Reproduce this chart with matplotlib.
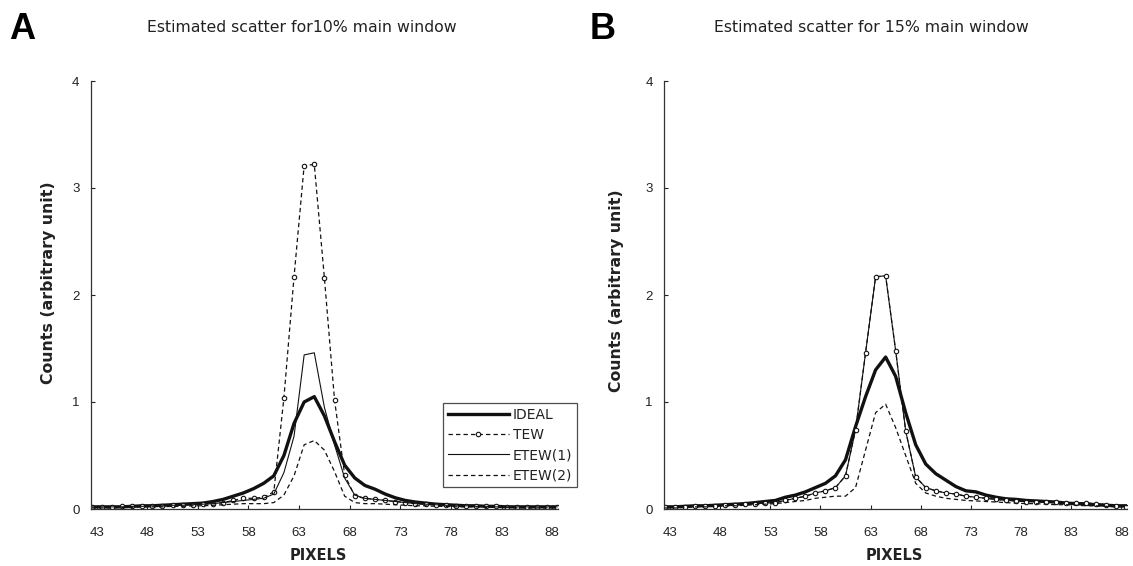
import numpy as np
import matplotlib
matplotlib.use("Agg")
import matplotlib.pyplot as plt

plt.rcParams['font.family'] = ['Liberation Sans', 'DejaVu Sans']

# pixel positions (category centres)
X = np.arange(42.5, 89.0, 1.0)
XTICKS = [43, 48, 53, 58, 63, 68, 73, 78, 83, 88]
YTICKS = [0, 1, 2, 3, 4]

# Panel A: 10% main window
IDEAL_A = [0.02, 0.02, 0.02, 0.02, 0.025, 0.03, 0.03, 0.035, 0.04, 0.045, 0.05, 0.055,
           0.07, 0.09, 0.12, 0.15, 0.19, 0.24, 0.31, 0.50, 0.80, 1.00, 1.05, 0.87, 0.63,
           0.41, 0.29, 0.22, 0.185, 0.14, 0.105, 0.08, 0.065, 0.055, 0.045, 0.04, 0.035,
           0.03, 0.03, 0.025, 0.025, 0.02, 0.02, 0.02, 0.02, 0.02, 0.02]
TEW_A = [0.02, 0.02, 0.02, 0.025, 0.025, 0.03, 0.03, 0.03, 0.035, 0.04, 0.04, 0.045,
         0.05, 0.06, 0.08, 0.10, 0.10, 0.11, 0.16, 1.04, 2.17, 3.21, 3.22, 2.16, 1.02,
         0.32, 0.12, 0.10, 0.09, 0.08, 0.07, 0.06, 0.05, 0.045, 0.04, 0.035, 0.03,
         0.03, 0.03, 0.025, 0.025, 0.02, 0.02, 0.02, 0.02, 0.02, 0.02]
ETEW1_A = [0.02, 0.02, 0.02, 0.02, 0.025, 0.025, 0.03, 0.03, 0.035, 0.035, 0.04, 0.045,
           0.05, 0.06, 0.07, 0.08, 0.09, 0.10, 0.14, 0.34, 0.68, 1.44, 1.46, 0.95, 0.60,
           0.29, 0.13, 0.10, 0.09, 0.08, 0.07, 0.06, 0.05, 0.045, 0.04, 0.035, 0.03,
           0.03, 0.025, 0.025, 0.02, 0.02, 0.02, 0.02, 0.02, 0.02, 0.02]
ETEW2_A = [0.01, 0.01, 0.01, 0.015, 0.015, 0.02, 0.02, 0.02, 0.025, 0.025, 0.03, 0.03,
           0.035, 0.04, 0.045, 0.05, 0.05, 0.05, 0.06, 0.13, 0.31, 0.60, 0.64, 0.55, 0.35,
           0.12, 0.06, 0.05, 0.05, 0.045, 0.04, 0.035, 0.03, 0.03, 0.025, 0.025, 0.02,
           0.02, 0.02, 0.015, 0.015, 0.015, 0.01, 0.01, 0.01, 0.01, 0.01]

# Panel B: 15% main window
IDEAL_B = [0.02, 0.02, 0.025, 0.03, 0.03, 0.035, 0.04, 0.045, 0.05, 0.06, 0.07, 0.08,
           0.11, 0.13, 0.16, 0.20, 0.24, 0.31, 0.46, 0.77, 1.05, 1.30, 1.42, 1.24, 0.90,
           0.60, 0.42, 0.33, 0.27, 0.21, 0.17, 0.16, 0.13, 0.11, 0.095, 0.09, 0.08,
           0.075, 0.07, 0.065, 0.055, 0.05, 0.045, 0.04, 0.035, 0.03, 0.03]
TEW_B = [0.02, 0.02, 0.02, 0.025, 0.03, 0.03, 0.035, 0.04, 0.045, 0.05, 0.055, 0.06,
         0.08, 0.10, 0.12, 0.15, 0.17, 0.20, 0.31, 0.74, 1.46, 2.17, 2.18, 1.48, 0.73,
         0.30, 0.20, 0.17, 0.15, 0.14, 0.12, 0.11, 0.10, 0.09, 0.08, 0.075, 0.07,
         0.07, 0.065, 0.065, 0.06, 0.06, 0.055, 0.05, 0.04, 0.03, 0.02]
ETEW1_B = [0.02, 0.02, 0.02, 0.025, 0.03, 0.03, 0.035, 0.04, 0.045, 0.05, 0.055, 0.06,
           0.08, 0.10, 0.12, 0.15, 0.17, 0.20, 0.31, 0.74, 1.46, 2.17, 2.18, 1.48, 0.73,
           0.30, 0.20, 0.17, 0.15, 0.14, 0.12, 0.11, 0.10, 0.09, 0.08, 0.075, 0.07,
           0.07, 0.065, 0.065, 0.06, 0.06, 0.055, 0.05, 0.04, 0.03, 0.02]
ETEW2_B = [0.01, 0.01, 0.015, 0.02, 0.02, 0.025, 0.03, 0.03, 0.035, 0.04, 0.045, 0.05,
           0.06, 0.07, 0.08, 0.10, 0.11, 0.12, 0.12, 0.20, 0.55, 0.90, 0.98, 0.76, 0.50,
           0.24, 0.15, 0.12, 0.10, 0.09, 0.08, 0.075, 0.07, 0.065, 0.06, 0.055, 0.05,
           0.05, 0.045, 0.04, 0.04, 0.035, 0.03, 0.03, 0.025, 0.02, 0.02]

LABELS = ['IDEAL', 'TEW', 'ETEW(1)', 'ETEW(2)']
TITLES = ['Estimated scatter for10% main window', 'Estimated scatter for 15% main window']

W, H = 1133, 566
fig = plt.figure(figsize=(W / 100, H / 100), dpi=100)
fig.patch.set_facecolor('white')

def px_axes(left, right, top, bottom):
    return fig.add_axes([left / W, 1 - bottom / H, (right - left) / W, (bottom - top) / H])

axA = px_axes(90.6, 558.2, 81, 509)
axB = px_axes(664.0, 1127.3, 81, 509)

col = '#111111'
txt = '#222222'
dash = (0, (3.5, 2.5))
DJ = ['DejaVu Sans']

def style(ax):
    ax.set_xlim(42.4, 88.6)
    ax.set_ylim(0, 4)
    ax.set_xticks(XTICKS)
    ax.set_yticks(YTICKS)
    ax.set_xticklabels([str(t) for t in XTICKS])
    ax.set_yticklabels([str(t) for t in YTICKS])
    for s in ['top', 'right']:
        ax.spines[s].set_visible(False)
    for s in ['left', 'bottom']:
        ax.spines[s].set_color('#333333')
        ax.spines[s].set_linewidth(0.9)
    ax.tick_params(axis='x', direction='in', length=3, width=0.8, pad=13, labelsize=9.5, colors=txt)
    ax.tick_params(axis='y', direction='in', length=3, width=0.8, pad=8, labelsize=9.5, colors=txt)

# Panel A
l1, = axA.plot(X, IDEAL_A, color=col, lw=2.4, solid_joinstyle='round')
l2, = axA.plot(X, TEW_A, color=col, lw=0.9, linestyle=dash, marker='o', ms=3.2,
               mfc='white', mec=col, mew=0.8)
l3, = axA.plot(X, ETEW1_A, color=col, lw=0.8)
l4, = axA.plot(X, ETEW2_A, color=col, lw=0.9, linestyle=dash)
style(axA)
leg = axA.legend([l1, l2, l3, l4], LABELS, loc='upper left', bbox_to_anchor=(0.7536, 0.2477),
                 frameon=True, fancybox=False, prop={'family': DJ, 'size': 10},
                 handlelength=4.4, handletextpad=0.3,
                 borderpad=0.35, labelspacing=0.45, borderaxespad=0)
leg.get_frame().set_edgecolor('#222222')
leg.get_frame().set_linewidth(0.9)
for t in leg.get_texts():
    t.set_color(txt)

# Panel B
axB.plot(X, IDEAL_B, color=col, lw=2.4, solid_joinstyle='round')
axB.plot(X, ETEW1_B, color=col, lw=0.8)
axB.plot(X, TEW_B, color=col, lw=0.9, linestyle=dash, marker='o', ms=3.2,
         mfc='white', mec=col, mew=0.8)
axB.plot(X, ETEW2_B, color=col, lw=0.9, linestyle=dash)
style(axB)

# Titles, panel letters and axis labels
fig.text(302 / W, 1 - 27 / H, TITLES[0], ha='center', va='center', fontsize=11.3,
         family=DJ, color=txt)
fig.text(871 / W, 1 - 27 / H, TITLES[1], ha='center', va='center', fontsize=11.3,
         family=DJ, color=txt)
fig.text(22.5 / W, 1 - 29.5 / H, 'A', ha='center', va='center', fontsize=26, fontweight='bold')
fig.text(603 / W, 1 - 29.5 / H, 'B', ha='center', va='center', fontsize=26, fontweight='bold')
for xc, yc in ((48, 283), (617, 291)):
    fig.text(xc / W, 1 - yc / H, 'Counts (arbitrary unit)', rotation=90, ha='center', va='center',
             fontsize=11.3, fontweight='bold', family=DJ, color=txt)
for xc in (318, 894):
    fig.text(xc / W, 1 - 555 / H, 'PIXELS', ha='center', va='center',
             fontsize=10.5, fontweight='bold', family=DJ, color=txt)

fig.savefig('out.png', dpi=100, facecolor='white')
